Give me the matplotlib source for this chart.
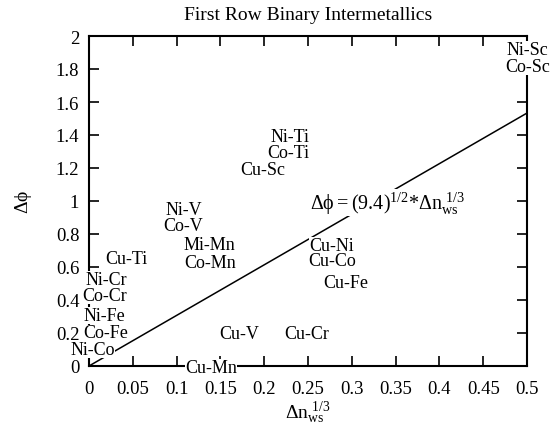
import matplotlib
matplotlib.use("Agg")
import matplotlib.pyplot as plt

plt.rcParams['font.family'] = ['Liberation Serif', 'DejaVu Serif']
plt.rcParams['mathtext.fontset'] = 'custom'
plt.rcParams['mathtext.rm'] = 'Liberation Serif'
plt.rcParams['mathtext.it'] = 'Liberation Serif'
plt.rcParams['mathtext.bf'] = 'Liberation Serif:bold'

# alloy labels and where they sit (dn_ws^1/3, dphi)
alloys = ['Ni-Sc', 'Co-Sc', 'Ni-Ti', 'Co-Ti', 'Cu-Sc', 'Ni-V', 'Co-V',
          'Mi-Mn', 'Co-Mn', 'Cu-Ti', 'Ni-Cr', 'Co-Cr', 'Ni-Fe', 'Co-Fe',
          'Ni-Co', 'Cu-Ni', 'Cu-Co', 'Cu-Fe', 'Cu-V', 'Cu-Cr', 'Cu-Mn']
dn = [0.501, 0.501, 0.229, 0.227, 0.198, 0.108, 0.108,
      0.137, 0.138, 0.043, 0.020, 0.018, 0.018, 0.019,
      0.004, 0.277, 0.278, 0.293, 0.172, 0.249, 0.139]
dphi = [1.921, 1.818, 1.392, 1.292, 1.188, 0.947, 0.850,
        0.735, 0.628, 0.649, 0.527, 0.430, 0.305, 0.200,
        0.100, 0.733, 0.638, 0.507, 0.194, 0.194, -0.008]

# fitted line endpoints
line_x = [0, 0.5]
line_y = [0, 1.533]

xticks = [0, 0.05, 0.1, 0.15, 0.2, 0.25, 0.3, 0.35, 0.4, 0.45, 0.5]
xticklabels = ['0', '0.05', '0.1', '0.15', '0.2', '0.25', '0.3', '0.35', '0.4', '0.45', '0.5']
yticks = [0, 0.2, 0.4, 0.6, 0.8, 1.0, 1.2, 1.4, 1.6, 1.8, 2.0]
yticklabels = ['0', '0.2', '0.4', '0.6', '0.8', '1', '1.2', '1.4', '1.6', '1.8', '2']

fig = plt.figure(figsize=(5.55, 4.27), dpi=100)
ax = fig.add_axes([89 / 555, 1 - 367 / 427, (527 - 89) / 555, (367 - 37) / 427])

ax.plot(line_x, line_y, color='black', linewidth=1.1, zorder=3)

for name, x, y in zip(alloys, dn, dphi):
    ax.text(x, y, name, ha='center', va='center', fontsize=13, zorder=6, clip_on=False,
            bbox=dict(facecolor='white', edgecolor='none', pad=0))

ax.text(0.252, 0.99, r'$\Delta\phi = (9.4)^{1/2}{*}\Delta n_{ws}^{\ 1/3}$', ha='left', va='center',
        fontsize=14.5, zorder=6, bbox=dict(facecolor='white', edgecolor='none', pad=0.5))

ax.set_xlim(0, 0.5)
ax.set_ylim(0, 2)
ax.set_xticks(xticks)
ax.set_xticklabels(xticklabels)
ax.set_yticks(yticks)
ax.set_yticklabels(yticklabels)
ax.tick_params(direction='in', top=True, right=True, length=7, width=1.2, labelsize=13.5)
ax.tick_params(axis='x', pad=10)
ax.tick_params(axis='y', pad=7)
for s in ax.spines.values():
    s.set_linewidth(1.5)

ax.set_xlabel(r'$\Delta n_{ws}^{\ 1/3}$', fontsize=14, labelpad=2)
ax.set_ylabel(r'$\Delta\phi$', fontsize=14, labelpad=16)
ax.set_title('First Row Binary Intermetallics', fontsize=14, pad=12)

fig.savefig('out.png', dpi=100)
